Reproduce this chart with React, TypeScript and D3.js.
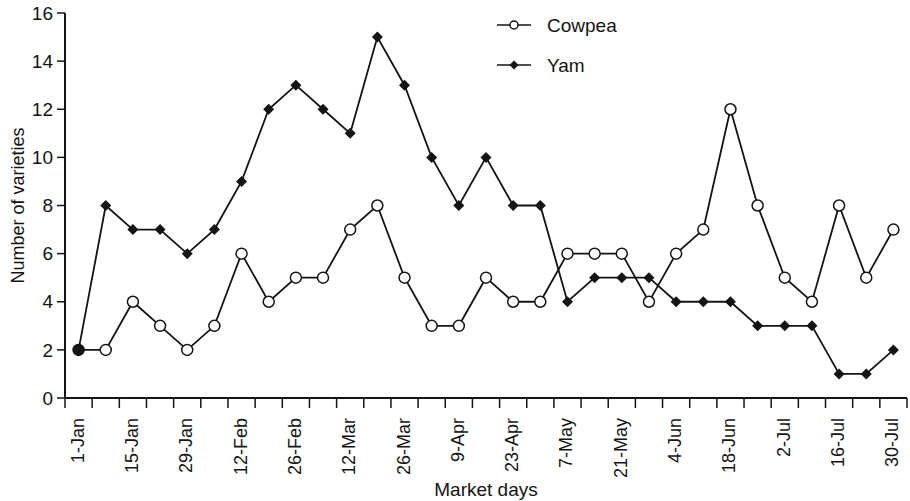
import * as d3 from "d3";

const days = [
  "1-Jan", "8-Jan", "15-Jan", "22-Jan", "29-Jan", "5-Feb", "12-Feb", "19-Feb",
  "26-Feb", "5-Mar", "12-Mar", "19-Mar", "26-Mar", "2-Apr", "9-Apr", "16-Apr",
  "23-Apr", "30-Apr", "7-May", "14-May", "21-May", "28-May", "4-Jun", "11-Jun",
  "18-Jun", "25-Jun", "2-Jul", "9-Jul", "16-Jul", "23-Jul", "30-Jul",
];

const cowpea = [2, 2, 4, 3, 2, 3, 6, 4, 5, 5, 7, 8, 5, 3, 3, 5, 4, 4, 6, 6, 6, 4, 6, 7, 12, 8, 5, 4, 8, 5, 7];
const yam = [2, 8, 7, 7, 6, 7, 9, 12, 13, 12, 11, 15, 13, 10, 8, 10, 8, 8, 4, 5, 5, 5, 4, 4, 4, 3, 3, 3, 1, 1, 2];

const yTicks = [0, 2, 4, 6, 8, 10, 12, 14, 16];

const W = 910;
const H = 501;
const left = 65;
const right = 907;
const top = 13;
const bottom = 398;
const ink = "#141414";
const font = "'Liberation Sans', Arial, sans-serif";

export default function App() {
  const x = d3.scaleBand<string>().domain(days).range([left, right]);
  const y = d3.scaleLinear().domain([0, 16]).range([bottom, top]);
  const cx = (d: string) => (x(d) ?? 0) + x.bandwidth() / 2;

  const line = d3
    .line<number>()
    .x((_, i) => cx(days[i]))
    .y((v) => y(v));

  // tick marks sit on the band edges, labels on every second band centre
  const edges = days.map((d) => x(d) ?? 0).concat([right]);
  const diamond = (r: number) => `M0,${-r}L${r},0L0,${r}L${-r},0Z`;

  return (
    <svg width={W} height={H} style={{ position: "absolute", left: 0, top: 0 }} fontFamily={font}>
      <rect width={W} height={H} fill="#fff" />

      {/* axes */}
      <line x1={left} x2={left} y1={top} y2={bottom} stroke={ink} strokeWidth={2} />
      <line x1={left} x2={right} y1={bottom} y2={bottom} stroke={ink} strokeWidth={2} />
      {yTicks.map((t) => (
        <g key={t}>
          <line x1={left - 8} x2={left} y1={y(t)} y2={y(t)} stroke={ink} strokeWidth={1.5} />
          <text x={left - 12} y={y(t)} dy="0.35em" textAnchor="end" fontSize={19} fill={ink}>
            {t}
          </text>
        </g>
      ))}
      {edges.map((e, i) => (
        <line key={i} x1={e} x2={e} y1={bottom} y2={bottom + 10} stroke={ink} strokeWidth={1.5} />
      ))}
      {days.map((d, i) =>
        i % 2 === 0 ? (
          <text
            key={d}
            transform={`translate(${cx(d) + 5},${bottom + 20}) rotate(-90)`}
            textAnchor="end"
            fontSize={18}
            fill={ink}
          >
            {d}
          </text>
        ) : null
      )}
      <text
        transform={`translate(24,${(top + bottom) / 2}) rotate(-90)`}
        textAnchor="middle"
        fontSize={18}
        fill={ink}
      >
        Number of varieties
      </text>
      <text x={(left + right) / 2} y={496} textAnchor="middle" fontSize={19} fill={ink}>
        Market days
      </text>

      {/* series */}
      <path d={line(yam) ?? ""} fill="none" stroke={ink} strokeWidth={1.8} />
      <path d={line(cowpea) ?? ""} fill="none" stroke={ink} strokeWidth={1.8} />
      {yam.map((v, i) => (
        <path key={i} d={diamond(5.5)} transform={`translate(${cx(days[i])},${y(v)})`} fill={ink} />
      ))}
      {cowpea.map((v, i) => (
        <circle
          key={i}
          cx={cx(days[i])}
          cy={y(v)}
          r={5.5}
          fill={v === yam[i] ? ink : "#fff"}
          stroke={ink}
          strokeWidth={1.5}
        />
      ))}

      {/* legend */}
      <g transform="translate(497,25)">
        <line x1={0} x2={34} stroke={ink} strokeWidth={1.5} />
        <circle cx={17} r={4} fill="#fff" stroke={ink} strokeWidth={1.5} />
        <text x={50} dy="0.35em" fontSize={19} fill={ink}>Cowpea</text>
      </g>
      <g transform="translate(497,65)">
        <line x1={0} x2={34} stroke={ink} strokeWidth={1.5} />
        <path d={diamond(4.5)} transform="translate(17,0)" fill={ink} />
        <text x={50} dy="0.35em" fontSize={19} fill={ink}>Yam</text>
      </g>
    </svg>
  );
}
